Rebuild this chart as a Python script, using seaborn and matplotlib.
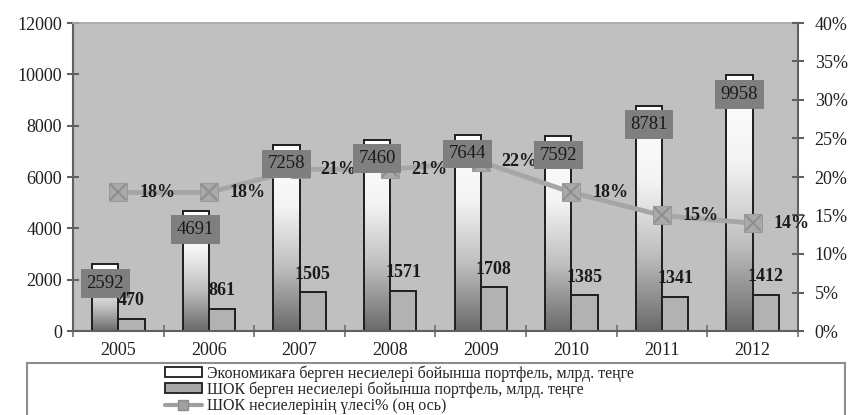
import numpy as np
import pandas as pd
import matplotlib
matplotlib.use("Agg")
import matplotlib.pyplot as plt
import seaborn as sns
from matplotlib.patches import Rectangle
from matplotlib.lines import Line2D
from matplotlib.colors import LinearSegmentedColormap

# данные
years = ['2005', '2006', '2007', '2008', '2009', '2010', '2011', '2012']
economy = [2592, 4691, 7258, 7460, 7644, 7592, 8781, 9958]
shok = [470, 861, 1505, 1571, 1708, 1385, 1341, 1412]
share = [18, 18, 21, 21, 22, 18, 15, 14]
series_names = ['Экономикаға берген несиелері бойынша портфель, млрд. теңге',
                'ШОК берген несиелері бойынша портфель, млрд. теңге',
                'ШОК несиелерінің үлесі% (оң ось)']

sns.set_theme(style='white')
plt.rcParams['font.family'] = ['Liberation Serif', 'DejaVu Serif']

df = pd.DataFrame({'year': years * 2,
                   'value': economy + shok,
                   'series': [series_names[0]] * len(years) + [series_names[1]] * len(years)})

fig = plt.figure(figsize=(8.53, 4.15), dpi=100)
ax = fig.add_axes([73 / 853, 84 / 415, 725 / 853, 308 / 415])
ax.set_facecolor('#c0c0c0')

sns.barplot(data=df, x='year', y='value', hue='series', palette=['white', '#b2b2b2'],
            width=0.58, edgecolor='#1e1e1e', linewidth=1.4, saturation=1,
            legend=False, ax=ax)

# градиент для белых столбцов
cmap = LinearSegmentedColormap.from_list('g', ['#6a6a6a', '#bdbdbd', '#f4f4f4', '#ffffff'])
grad = np.linspace(0, 1, 512).reshape(-1, 1)
for bar in ax.containers[0]:
    x0, w, h = bar.get_x(), bar.get_width(), bar.get_height()
    im = ax.imshow(grad, extent=[x0, x0 + w, 0, h], origin='lower', cmap=cmap,
                   aspect='auto', zorder=0.5, interpolation='bilinear')
    im.set_clip_path(bar)
    bar.set_facecolor('none')
    bar.set_zorder(1)
ax.set_xlim(-0.5, 7.5)
ax.set_ylim(0, 12000)

ax.set_yticks(range(0, 12001, 2000))
ax.set_xticks(np.arange(-0.5, 8, 1))
ax.set_xticklabels([])
ax.set_xticks(range(len(years)), minor=True)
ax.set_xticklabels(years, minor=True)
ax.tick_params(axis='y', direction='inout', length=8, width=1.5, color='#606060',
               labelsize=13, labelcolor='#202020', pad=4, left=True)
ax.tick_params(axis='x', which='major', direction='inout', length=9, width=1.2,
               color='#707070', bottom=True)
ax.tick_params(axis='x', which='minor', length=0, labelsize=13, labelcolor='#202020', pad=8)
ax.set_xlabel('')
ax.set_ylabel('')
for s in ['left', 'bottom']:
    ax.spines[s].set_color('#606060')
    ax.spines[s].set_linewidth(1.5)
ax.spines['top'].set_color('#a8a8a8')
ax.spines['right'].set_visible(False)

# правая ось - доля
ax2 = ax.twinx()
sns.lineplot(x=np.arange(len(years)), y=share, ax=ax2, color='#a6a6a6', linewidth=3.5,
             marker='s', markersize=13, markerfacecolor='#a9a9a9', markeredgecolor='#9a9a9a')
ax2.plot(np.arange(len(years)), share, 'x', ms=12, mec='#8c8c8c', mew=1.3)
ax2.set_ylim(0, 40)
ax2.set_yticks(range(0, 41, 5))
ax2.set_yticklabels([f'{v}%' for v in range(0, 41, 5)])
ax2.tick_params(axis='y', direction='inout', length=8, width=1.5, color='#606060',
                labelsize=13, labelcolor='#202020', pad=8, right=True)
for s in ['left', 'top', 'bottom']:
    ax2.spines[s].set_visible(False)
ax2.spines['right'].set_color('#606060')
ax2.spines['right'].set_linewidth(1.5)

for i, v in enumerate(share):
    ax2.annotate(f'{v}%', (i, v), xytext=(39, 0), textcoords='offset pixels',
                 ha='center', va='center', fontsize=13, fontweight='bold', color='#1a1a1a')

for bar, v in zip(ax.containers[0], economy):
    ax2.annotate(str(v), (bar.get_x() + bar.get_width() / 2, v), xycoords=ax.transData,
                 xytext=(0, -19), textcoords='offset pixels', ha='center', va='center',
                 fontsize=13.5, color='#1a1a1a',
                 bbox=dict(boxstyle='square,pad=0.3', facecolor='#7f7f7f', edgecolor='none'))
for bar, v in zip(ax.containers[1], shok):
    ax2.annotate(str(v), (bar.get_x() + bar.get_width() / 2, v), xycoords=ax.transData,
                 xytext=(0, 18), textcoords='offset pixels', ha='center', va='center',
                 fontsize=13, fontweight='bold', color='#1a1a1a')

# легенда
fig.patches.append(Rectangle((27 / 853, -0.1), 818 / 853, 0.1 + 52 / 415,
                             transform=fig.transFigure, facecolor='white',
                             edgecolor='#8c8c8c', linewidth=1.5, zorder=0))
handles = [Rectangle((0, 0), 1, 1, facecolor='white', edgecolor='#1e1e1e', linewidth=1.3),
           Rectangle((0, 0), 1, 1, facecolor='#a8a8a8', edgecolor='#1e1e1e', linewidth=1.3),
           Line2D([], [], color='#a0a0a0', linewidth=3, marker='s', markersize=7,
                  markerfacecolor='#a0a0a0', markeredgecolor='#8c8c8c')]
fig.legend(handles, series_names, loc='upper left', bbox_to_anchor=(165 / 853, 50 / 415),
           frameon=False, fontsize=11.5, handlelength=2.3, handleheight=0.6, handletextpad=0.3,
           labelspacing=0.0, borderpad=0, borderaxespad=0)

fig.savefig('out.png', dpi=100)
